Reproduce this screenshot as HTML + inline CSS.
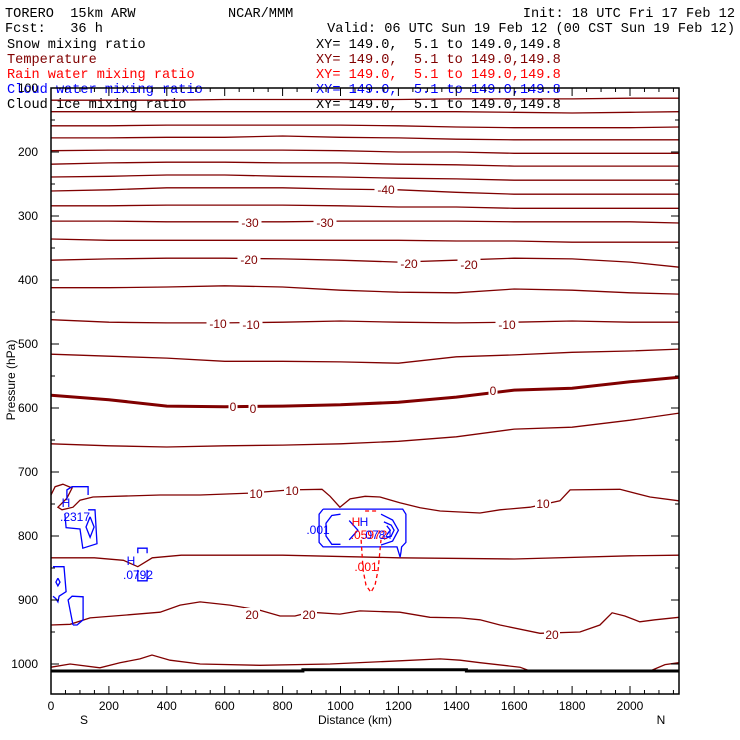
<!DOCTYPE html>
<html><head><meta charset="utf-8"><style>
html,body{margin:0;padding:0;background:#fff;}
body{width:740px;height:740px;overflow:hidden;}
svg{display:block;}
.hd{font-family:"Liberation Mono",monospace;font-size:13.6px;white-space:pre;}
.tk{font-family:"Liberation Sans",sans-serif;font-size:12px;}
.cl{font-family:"Liberation Sans",sans-serif;font-size:12px;fill:#800000;}
</style></head><body>
<svg id="chart" width="740" height="740" viewBox="0 0 740 740">
<g>
<text class="hd" x="5" y="17" xml:space="preserve">TORERO  15km ARW</text>
<text class="hd" x="228" y="17">NCAR/MMM</text>
<text class="hd" x="735" y="17" text-anchor="end">Init: 18 UTC Fri 17 Feb 12</text>
<text class="hd" x="5" y="32" xml:space="preserve">Fcst:   36 h</text>
<text class="hd" x="735" y="32" text-anchor="end">Valid: 06 UTC Sun 19 Feb 12 (00 CST Sun 19 Feb 12)</text>
<text class="hd" x="7" y="48">Snow mixing ratio</text>
<text class="hd" x="316" y="48" xml:space="preserve">XY= 149.0,  5.1 to 149.0,149.8</text>
<text class="hd" x="7" y="63" fill="#800000">Temperature</text>
<text class="hd" x="316" y="63" fill="#800000" xml:space="preserve">XY= 149.0,  5.1 to 149.0,149.8</text>
<text class="hd" x="7" y="78" fill="#ff0000">Rain water mixing ratio</text>
<text class="hd" x="316" y="78" fill="#ff0000" xml:space="preserve">XY= 149.0,  5.1 to 149.0,149.8</text>
<text class="hd" x="7" y="93" fill="#0000ff">Cloud water mixing ratio</text>
<text class="hd" x="316" y="93" fill="#0000ff" xml:space="preserve">XY= 149.0,  5.1 to 149.0,149.8</text>
<text class="hd" x="7" y="108">Cloud ice mixing ratio</text>
<text class="hd" x="316" y="108" xml:space="preserve">XY= 149.0,  5.1 to 149.0,149.8</text>
</g>
<g id="plot"></g>
<g id="axes"></g>
<g id="labels"></g>
</svg>
<script>
// ---- data ----
const distTicks = [0,200,400,600,800,1000,1200,1400,1600,1800,2000];
const presTicks = [100,200,300,400,500,600,700,800,900,1000];
const dist = [0,200,400,600,800,1000,1200,1400,1600,1800,2000,2170];
const tempLevels = [-75,-70,-65,-60,-55,-50,-45,-40,-35,-30,-25,-20,-15,-10,-5,0,5];
const tempM75 = [119,119,119,118,118,118,118,117,117,117,116,116];
const tempM70 = [137,137,137,137,137,137,137,137,138,139,138,137];
const tempM65 = [159,159,158,158,158,158,159,161,162,162,162,161];
const tempM60 = [178,178,177,177,175,177,178,180,181,181,181,181];
const tempM55 = [198,197,197,197,197,198,200,200,202,202,202,202];
const tempM50 = [219,217,216,216,217,217,219,220,222,222,222,222];
const tempM45 = [239,238,236,236,238,239,241,242,244,244,244,244];
const tempM40 = [261,259,256,256,256,258,259,263,266,266,266,266];
const tempM35 = [284,284,283,283,283,284,286,286,288,288,288,288];
const tempM30 = [308,308,309,309,309,308,308,308,309,309,309,311];
const tempM25 = [336,338,338,338,338,338,338,339,339,341,341,341];
const tempM20 = [369,367,366,366,367,369,372,369,366,367,372,380];
const tempM15 = [412,412,411,409,411,416,419,420,414,416,420,422];
const tempM10 = [462,466,467,467,466,464,466,467,466,464,466,466];
const tempM5  = [516,519,522,527,527,528,530,520,517,513,511,508];
const temp0   = [580,587,597,598,597,595,591,583,572,569,559,552];
const temp5   = [656,659,661,659,658,656,652,645,633,630,619,608];
const temp10Dist = [0,14,41,73,55,24,38,76,100,145,377,515,687,826,936,964,998,1033,1085,1136,1205,1275,1344,1482,1551,1655,1758,1793,1965,2069,2169];
const temp10 = [736,723,719,725,741,755,759,755,744,739,736,736,733,728,727,738,755,742,738,739,748,756,761,764,759,755,745,728,727,739,745];
const temp15Dist = [0,150,250,300,350,450,800,1200,1600,2000,2169];
const temp15 = [834,834,838,848,834,830,830,834,836,831,830];
const temp20Dist = [0,66,135,273,377,446,515,618,722,791,843,895,998,1067,1205,1309,1413,1482,1551,1689,1827,1896,1938,1982,2034,2086,2169];
const temp20 = [939,938,928,923,919,908,903,908,916,925,925,919,922,917,919,927,928,931,939,952,950,939,920,925,934,931,927];
const temp25Dist = [0,66,169,238,307,349,411,515,722,964,1205,1344,1413,1482,1620,1655];
const temp25 = [1005,1000,1006,998,992,986,994,1000,1002,1000,995,992,994,998,1005,1011];
const temp25bDist = [2069,2121,2169];
const temp25b = [1011,1001,998];
const groundDist = [0,870,870,1435,1435,2169];
const groundPres = [1011,1011,1009,1009,1011,1011];
// cloud water contours (km, hPa)
const cwA1d = [55,55,73,128,128]; const cwA1p = [744,728,723,723,736];
const cwA2d = [128,152,159,110,100,52,48]; const cwA2p = [759,759,812,819,789,787,766];
const cwA3d = [135,149,135,121,135]; const cwA3p = [770,786,802,786,770];
const cwBd = [7,45,52,28,24,17,7]; const cwBp = [848,848,887,894,903,898,894];
const cwB2d = [24,31,24,17,24]; const cwB2p = [866,872,878,872,866];
const cwCd = [76,59,73,111,111,90,76]; const cwCp = [939,900,894,895,931,939,939];
const cwBr1d = [300,300,332,332]; const cwBr1p = [827,819,819,827];
const cwBr2d = [300,300,332,332]; const cwBr2p = [853,870,870,853];
const cwDd = [940,926,926,940,1195,1206,1209,1211,1226,1226,1215,940];
const cwDp = [758,766,810,817,817,833,825,817,810,766,758,758];
const cwEd = [1000,970,950,950,970,1000]; const cwEp = [766,768,780,800,813,813];
const cwFd = [1030,1060,1030]; const cwFp = [776,791,806];
const cwGd = [1140,1180,1200,1180,1140]; const cwGp = [766,775,791,808,814];
const cwHd = [1150,1175,1185,1175,1150]; const cwHp = [778,783,791,800,805];
const cwId = [1160,1172,1160]; const cwIp = [784,791,798];
// rain water (dashed)
const rwd = [1071,1078,1088,1105,1119,1130,1140]; const rwp = [806,853,877,888,877,853,806];
const rwTopd = [1085,1125]; const rwTopp = [761,761];

// ---- axes ----
const X = d => 51 + d*0.2895;
const Y = p => 88 + (p-100)*0.64;
const NS='http://www.w3.org/2000/svg';
const plot=document.getElementById('plot'), axes=document.getElementById('axes'), labs=document.getElementById('labels');
function mk(tag,attrs,parent){const e=document.createElementNS(NS,tag);for(const k in attrs)e.setAttribute(k,attrs[k]);parent.appendChild(e);return e;}
function line(ds,ps,color,w,name,dash){
  const pts=ds.map((d,i)=>X(d).toFixed(1)+','+Y(ps[i]).toFixed(1)).join(' ');
  const e=mk('polyline',{points:pts,fill:'none',stroke:color,'stroke-width':w},plot);
  if(dash)e.setAttribute('stroke-dasharray',dash);
  
  
}
const tempSeries=[tempM75,tempM70,tempM65,tempM60,tempM55,tempM50,tempM45,tempM40,tempM35,tempM30,tempM25,tempM20,tempM15,tempM10,tempM5,temp0,temp5];
tempSeries.forEach((s,i)=>line(dist,s,'#800000',tempLevels[i]===0?3:1.3,'isotherm-'+tempLevels[i]));
line(temp10Dist,temp10,'#800000',1.3,'isotherm-10');
line(temp15Dist,temp15,'#800000',1.3,'isotherm-15');
line(temp20Dist,temp20,'#800000',1.3,'isotherm-20');
line(temp25Dist,temp25,'#800000',1.3,'isotherm-25');
line(temp25bDist,temp25b,'#800000',1.3,'isotherm-25-north');
const blue='#0000ff';
[[cwA1d,cwA1p],[cwA2d,cwA2p],[cwA3d,cwA3p],[cwBd,cwBp],[cwB2d,cwB2p],[cwCd,cwCp],[cwBr1d,cwBr1p],[cwBr2d,cwBr2p],[cwDd,cwDp],[cwEd,cwEp],[cwFd,cwFp],[cwGd,cwGp],[cwHd,cwHp],[cwId,cwIp]].forEach((c,i)=>line(c[0],c[1],blue,1.3,'cloud-water-contour-'+i));
line(rwd,rwp,'#ff0000',1.3,'rain-water-contour','4,3');
line(rwTopd,rwTopp,'#ff0000',1.3,'rain-water-contour-top','4,3');
line(groundDist,groundPres,'#000',3,'terrain-line');

// frame
const fx0=X(0),fx1=679,fy0=88,fy1=694;
const fr=mk('rect',{x:fx0,y:fy0,width:fx1-fx0,height:fy1-fy0,fill:'none',stroke:'#000','stroke-width':1.5},axes);


for(let d=0;d<=2150;d+=50){
  const major=d%200===0, len=major?8:4, x=X(d);
  mk('line',{x1:x,y1:fy1,x2:x,y2:fy1-len,stroke:'#000','stroke-width':1},axes);
  mk('line',{x1:x,y1:fy0,x2:x,y2:fy0+len,stroke:'#000','stroke-width':1},axes);
}
distTicks.forEach(d=>{
  const t=mk('text',{x:X(d),y:710,'text-anchor':'middle',class:'tk'},labs);
  t.textContent=d;
  
  
});
for(let p=100;p<=1040;p+=50){
  const major=p%100===0, len=major?8:4, y=Y(p);
  mk('line',{x1:fx0,y1:y,x2:fx0+len,y2:y,stroke:'#000','stroke-width':1},axes);
  mk('line',{x1:fx1,y1:y,x2:fx1-len,y2:y,stroke:'#000','stroke-width':1},axes);
}
presTicks.forEach(p=>{
  const t=mk('text',{x:38,y:Y(p)+4,'text-anchor':'end',class:'tk'},labs);
  t.textContent=p;
  
  
});
function txt(s,x,y,cls,fill,name,anchor){
  const t=mk('text',{x:x,y:y,class:cls,'text-anchor':anchor||'middle'},labs);
  if(fill)t.setAttribute('fill',fill);
  t.textContent=s;
  
  
  return t;
}
txt('Distance (km)',355,724,'tk',null,'x-axis-title');
txt('S',84,724,'tk',null,'south-label');
txt('N',661,724,'tk',null,'north-label');
const yt=txt('Pressure (hPa)',0,0,'tk',null,'y-axis-title');
yt.setAttribute('transform','translate(15,380) rotate(-90)');
const cLabels=[['-40',386,190],['-30',250,223],['-30',325,223],['-20',249,260],['-20',409,264],['-20',469,265],['-10',218,324],['-10',251,325],['-10',507,325],['0',233,407],['0',253,409],['0',493,391],['10',256,494],['10',292,491],['10',543,504],['20',252,615],['20',309,615],['20',552,635]];
cLabels.forEach(l=>{
  const w=l[0].length*7+2;
  mk('rect',{x:l[1]-w/2,y:l[2]-7,width:w,height:13,fill:'#fff'},labs);
  txt(l[0],l[1],l[2]+4,'cl',null,'isotherm-label');
});
txt('H',66,507,'tk',blue,'cloud-water-max-marker');
txt('.2317',75,521,'tk',blue,'cloud-water-max-value');
txt('H',131,565,'tk',blue,'cloud-water-max-marker-2');
txt('.0792',138,579,'tk',blue,'cloud-water-max-value-2');
txt('.001',318,534,'tk',blue,'cloud-water-contour-label');
txt('H',356,526,'tk','#ff0000','rain-water-max-marker');
txt('H',364,526,'tk',blue,'cloud-water-max-marker-3');
txt('.05972',369,539,'tk','#ff0000','rain-water-max-value');
txt('.0784',377,539,'tk',blue,'cloud-water-max-value-3');
txt('.001',366,571,'tk','#ff0000','rain-water-contour-label');
</script>
</body></html>
